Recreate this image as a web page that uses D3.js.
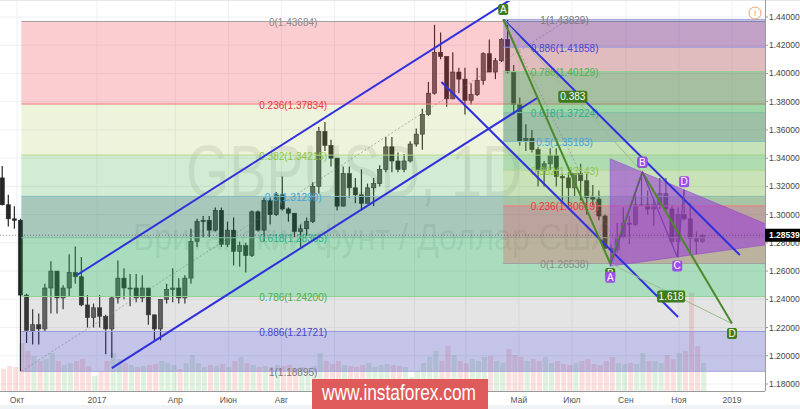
<!DOCTYPE html>
<html><head><meta charset="utf-8">
<script src="https://cdn.jsdelivr.net/npm/d3@7/dist/d3.min.js"></script>
<style>body{margin:0;background:#fff}svg{display:block}text{font-family:"Liberation Sans",Arial,sans-serif}</style>
</head><body><svg id="c" width="800" height="409"></svg>
<script>
// ---------------- DATA ----------------
const firstWeek = "2016-09-12", lastWeekEnd = "2018-11-27";
const open  = [1.3260,1.3070,1.2970,1.2960,1.2430,1.2180,1.2220,1.2190,1.2480,1.2600,1.2410,1.2480,1.2590,1.2560,1.2360,1.2270,
 1.2340,1.2280,1.2190,1.2410,1.2550,1.2480,1.2480,1.2410,1.2480,1.2290,1.2190,1.2400,1.2470,1.2480,1.2410,1.2550,1.2810,1.2950,1.2960,1.2890,1.3030,1.2790,1.2890,1.2740,1.2780,1.2710,1.3020,1.2890,1.3100,1.3000,1.3140,1.3040,1.3010,1.2880,1.2900,1.2950,1.3200,1.3590,1.3490,1.3400,1.3060,1.3290,1.3190,1.3140,1.3080,1.3190,1.3220,1.3320,1.3480,1.3380,1.3320,1.3380,
 1.3500,1.3570,1.3710,1.3860,1.4150,1.4120,1.3820,1.4010,1.3960,1.3810,1.3850,1.3950,1.4140,1.4010,1.4090,1.4240,1.4010,1.3780,1.3520,1.3540,1.3460,1.3310,1.3360,1.3420,1.3270,1.3260,1.3190,1.3290,1.3240,1.3120,1.3110,1.2990,1.2760,1.2750,1.2840,1.2940,1.2930,1.3070,1.3070,1.3040,1.3070,1.3150,1.3040,1.2810,1.3000,1.2970,1.2830,1.2810];
const high  = [1.3345,1.3140,1.3060,1.2970,1.2440,1.2330,1.2300,1.2510,1.2670,1.2600,1.2500,1.2720,1.2775,1.2700,1.2430,1.2370,
 1.2430,1.2290,1.2420,1.2675,1.2620,1.2580,1.2580,1.2570,1.2480,1.2290,1.2400,1.2510,1.2620,1.2550,1.2570,1.2900,1.2970,1.2990,1.2990,1.3050,1.3050,1.2950,1.2980,1.2810,1.2800,1.3030,1.3030,1.3120,1.3120,1.3160,1.3270,1.3050,1.3010,1.2930,1.2980,1.3230,1.3620,1.3657,1.3530,1.3400,1.3340,1.3340,1.3260,1.3320,1.3220,1.3260,1.3350,1.3550,1.3550,1.3440,1.3430,1.3520,
 1.3610,1.3750,1.3940,1.4345,1.4290,1.4120,1.4150,1.4040,1.4040,1.3930,1.4040,1.4150,1.4240,1.4110,1.4250,1.4383,1.4060,1.3830,1.3640,1.3600,1.3480,1.3380,1.3470,1.3470,1.3290,1.3300,1.3290,1.3360,1.3290,1.3210,1.3170,1.3000,1.2790,1.2940,1.3050,1.2990,1.3140,1.3298,1.3170,1.3100,1.3260,1.3260,1.3070,1.3050,1.3176,1.3080,1.2880,1.2860];
const low   = [1.3065,1.2915,1.2900,1.1890,1.2090,1.2080,1.2080,1.2170,1.2300,1.2300,1.2330,1.2420,1.2510,1.2350,1.2200,1.2200,
 1.2200,1.2010,1.1986,1.2370,1.2400,1.2350,1.2380,1.2380,1.2220,1.2110,1.2110,1.2370,1.2380,1.2370,1.2370,1.2510,1.2770,1.2840,1.2840,1.2880,1.2770,1.2770,1.2640,1.2630,1.2590,1.2700,1.2880,1.2810,1.2930,1.2990,1.3030,1.2950,1.2840,1.2770,1.2850,1.2940,1.3150,1.3450,1.3340,1.3030,1.3060,1.3120,1.3080,1.3030,1.3080,1.3060,1.3200,1.3300,1.3300,1.3300,1.3300,1.3370,
 1.3480,1.3460,1.3700,1.3850,1.4100,1.3765,1.3820,1.3860,1.3710,1.3780,1.3840,1.3920,1.4010,1.3960,1.4080,1.4000,1.3710,1.3490,1.3450,1.3440,1.3200,1.3200,1.3310,1.3200,1.3100,1.3050,1.3130,1.3100,1.3000,1.3060,1.2960,1.2760,1.2654,1.2730,1.2830,1.2790,1.2920,1.3060,1.3000,1.2920,1.3040,1.3030,1.2790,1.2696,1.2960,1.2720,1.2720,1.2800];
const close = [1.3070,1.2970,1.2960,1.2430,1.2180,1.2220,1.2190,1.2480,1.2600,1.2410,1.2480,1.2590,1.2560,1.2360,1.2270,1.2340,
 1.2280,1.2190,1.2410,1.2550,1.2480,1.2480,1.2410,1.2480,1.2290,1.2190,1.2400,1.2470,1.2480,1.2410,1.2550,1.2810,1.2950,1.2960,1.2890,1.3030,1.2790,1.2890,1.2740,1.2780,1.2710,1.3020,1.2890,1.3100,1.3000,1.3140,1.3040,1.3010,1.2880,1.2900,1.2950,1.3200,1.3590,1.3490,1.3400,1.3060,1.3290,1.3190,1.3140,1.3080,1.3190,1.3220,1.3320,1.3480,1.3380,1.3320,1.3380,1.3500,
 1.3570,1.3710,1.3860,1.4150,1.4120,1.3820,1.4010,1.3960,1.3810,1.3850,1.3950,1.4140,1.4010,1.4090,1.4240,1.4010,1.3780,1.3520,1.3540,1.3460,1.3310,1.3360,1.3420,1.3270,1.3260,1.3190,1.3290,1.3240,1.3120,1.3110,1.2990,1.2760,1.2750,1.2840,1.2940,1.2930,1.3070,1.3070,1.3040,1.3070,1.3150,1.3040,1.2810,1.3000,1.2970,1.2830,1.2810,1.2854];
const volume = [22,25,24,48,40,35,30,32,38,30,26,28,30,32,25,15,
 20,30,38,32,28,26,24,25,26,27,30,28,26,22,28,36,28,24,26,25,27,24,30,34,28,26,24,25,24,26,25,26,22,24,20,25,38,30,27,30,26,25,24,26,28,24,26,27,26,25,24,14,
 20,28,34,40,30,45,36,30,28,32,30,34,35,30,28,42,36,34,30,32,30,34,28,30,27,26,28,30,32,27,26,30,34,28,27,28,27,38,30,30,28,36,32,38,40,98,45,28];

const yTicks = [1.18,1.20,1.22,1.24,1.26,1.28,1.30,1.32,1.34,1.36,1.38,1.40,1.42,1.44];
const xTickDates  = ["2016-10-01","2017-01-01","2017-04-01","2017-06-01","2017-08-01","2017-10-01","2018-01-01","2018-03-01","2018-05-01","2018-07-01","2018-09-01","2018-11-01","2019-01-01"];
const xTickLabels = ["Окт","2017","Апр","Июн","Авг","Окт","2018","Мар","Май","Июл","Сен","Ноя","2019"];

const fibLevels  = [0,0.236,0.382,0.5,0.618,0.786,0.886,1];
const fib1Prices = [1.43684,1.37834,1.34215,1.31290,1.28365,1.24200,1.21721,1.18895];
const fib1Dates  = ["2016-10-06","2018-06-23"];
const fib2Prices = [1.26538,1.30619,1.33143,1.35183,1.37224,1.40129,1.41858,1.43829];
const fib2Dates  = ["2018-04-13","2018-09-01"];

const ascUpperDates = ["2016-12-09","2018-04-22"], ascUpperPrices = [1.2572,1.4525];
const ascLowerDates = ["2017-01-18","2018-05-22"], ascLowerPrices = [1.1913,1.3826];
const descUpperDates = ["2018-04-13","2019-01-10"], descUpperPrices = [1.43829,1.2714];
const descLowerDates = ["2018-02-01","2018-10-31"], descLowerPrices = [1.3940,1.2275];

const abcdNames  = ["A","B","C","D"];
const abcdDates  = ["2018-04-13","2018-08-14","2018-09-20","2019-01-01"];
const abcdPrices = [1.43829,1.26538,1.3300,1.2228];
const abcdRatios = ["0.383","1.618"];

const triNames  = ["A","B","C","D"];
const triDates  = ["2018-08-14","2018-09-20","2018-10-30","2018-11-07"];
const triPrices = [1.2635,1.3300,1.2700,1.3176];

const lastPrice = 1.28539;

// ---------------- STYLE ----------------
const zoneFill  = [null,"rgba(242,54,69,0.25)","rgba(160,190,60,0.18)","rgba(76,175,80,0.25)","rgba(30,110,80,0.38)","rgba(40,170,90,0.40)","rgba(120,120,120,0.20)","rgba(60,60,180,0.30)"];
const lineColor = ["#a0a0a0","#f47c7c","#b5d98a","#86bcc4","#7cc0a4","#8fd08f","#9a9ae0","#a8a8d8"];
const labelColor= ["#8a8a8a","#f0323c","#8cc63f","#3fa3d9","#2aae8e","#4cb050","#4646cc","#7a7a7a"];
const GREEN="#3c7c1c", PURPLE="#9b4fe8", BLUE="#3030dc";

// ---------------- SCALES ----------------
const parse = d3.utcParse("%Y-%m-%d");
const PR = 765, PB = 391;
const x = d3.scaleUtc().domain([parse("2016-10-01"), parse("2019-01-01")]).range([17,732]);
const y = d3.scaleLinear().domain([1.18,1.44]).range([384,17]);
const vY = d3.scaleLinear().domain([0,100]).range([PB,PB-100]);

const svg = d3.select("#c");
svg.append("rect").attr("width",800).attr("height",409).attr("fill","#fff");
svg.append("defs").append("clipPath").attr("id","plot").append("rect").attr("x",0).attr("y",0).attr("width",PR).attr("height",PB);
const g = svg.append("g").attr("clip-path","url(#plot)");

// grid
g.selectAll(".hg").data(yTicks).join("line").attr("x1",0).attr("x2",PR).attr("y1",d=>y(d)).attr("y2",d=>y(d)).attr("stroke","#eef0f2");
g.selectAll(".vg").data(xTickDates).join("line").attr("y1",0).attr("y2",PB).attr("x1",d=>x(parse(d))).attr("x2",d=>x(parse(d))).attr("stroke","#eef0f2");

// watermark
g.append("text").attr("x",186).attr("y",197).attr("font-size",74).attr("textLength",336).attr("lengthAdjust","spacingAndGlyphs")
 .attr("fill","rgba(60,60,60,0.11)").text("GBPUSD, 1D");
g.append("text").attr("x",133).attr("y",250).attr("font-size",36).attr("textLength",480).attr("lengthAdjust","spacingAndGlyphs")
 .attr("fill","rgba(60,60,60,0.11)").text("Британский фунт / Доллар США");

// bars
const weeks = d3.utcMonday.range(parse(firstWeek), parse(lastWeekEnd));
const bars = weeks.map((w,i)=>({w,o:open[i],h:high[i],l:low[i],c:close[i],v:volume[i]}));

g.selectAll(".vol").data(bars).join("rect")
 .attr("x",d=>x(d.w)+0.5).attr("width",d=>x(d3.utcDay.offset(d.w,7))-x(d.w)-1)
 .attr("y",d=>vY(d.v)).attr("height",d=>PB-vY(d.v))
 .attr("fill",d=>d.c>=d.o?"rgba(76,175,80,0.18)":"rgba(239,83,80,0.18)");

const cx = d=>x(d3.utcDay.offset(d.w,2));
g.selectAll(".wick").data(bars).join("line")
 .attr("x1",cx).attr("x2",cx).attr("y1",d=>y(d.h)).attr("y2",d=>y(d.l)).attr("stroke","#262626").attr("stroke-width",1.2);
g.selectAll(".body").data(bars).join("rect")
 .attr("x",d=>cx(d)-2.1).attr("width",4.2)
 .attr("y",d=>y(Math.max(d.o,d.c))).attr("height",d=>Math.max(1,Math.abs(y(d.o)-y(d.c))))
 .attr("fill",d=>d.c>=d.o?"#5c5c5c":"#262626").attr("stroke","#262626").attr("stroke-width",0.6);

// fib
function drawFib(prices, dates){
  const x0 = x(parse(dates[0])), xm = (x0 + x(parse(dates[1])))/2;
  const fg = g.append("g");
  for(let i=1;i<prices.length;i++){
    const ya=y(prices[i-1]), yb=y(prices[i]);
    fg.append("rect").attr("x",x0).attr("width",PR-x0).attr("y",Math.min(ya,yb)).attr("height",Math.abs(ya-yb)).attr("fill",zoneFill[i]);
  }
  prices.forEach((p,i)=>{
    fg.append("line").attr("x1",x0).attr("x2",PR).attr("y1",y(p)).attr("y2",y(p)).attr("stroke",lineColor[i]).attr("stroke-width",1);
  });
  prices.forEach((p,i)=>{
    fg.append("text").attr("x",xm).attr("y",y(p)+1).attr("dy","0.36em").attr("text-anchor","middle").attr("font-size",10)
      .attr("fill",labelColor[i]).text(`${fibLevels[i]}(${p.toFixed(5)})`);
  });
  // dotted trend line from level 1 anchor to level 0 anchor
  fg.append("line").attr("x1",x0).attr("y1",y(prices[prices.length-1])).attr("x2",x(parse(dates[1]))).attr("y2",y(prices[0]))
    .attr("stroke","rgba(120,120,120,0.55)").attr("stroke-dasharray","2,2");
}
drawFib(fib1Prices, fib1Dates);
drawFib(fib2Prices, fib2Dates);

// purple triangle pattern
const tp = triDates.map((d,i)=>[x(parse(d)), y(triPrices[i])]);
const [tA,tB,tC,tD] = tp;
const sBD=(tD[1]-tB[1])/(tD[0]-tB[0]), sAC=(tC[1]-tA[1])/(tC[0]-tA[0]);
const topLeftY = tB[1]+sBD*(tA[0]-tB[0]);
const apexX = (tA[1]-tB[1]+sBD*tB[0]-sAC*tA[0])/(sBD-sAC);
const apexY = tA[1]+sAC*(apexX-tA[0]);
g.append("polygon").attr("points",[[tA[0],topLeftY],tA,[apexX,apexY]].map(p=>p.join(",")).join(" "))
 .attr("fill","rgba(155,60,215,0.58)").attr("stroke","rgba(140,60,210,0.6)").attr("stroke-width",0.8);

// channels
const line = d3.line().x(d=>x(parse(d[0]))).y(d=>y(d[1]));
[[ascUpperDates,ascUpperPrices],[ascLowerDates,ascLowerPrices],[descUpperDates,descUpperPrices],[descLowerDates,descLowerPrices]].forEach(([ds,ps])=>{
  g.append("path").attr("d",line(ds.map((d,i)=>[d,ps[i]]))).attr("fill","none").attr("stroke",BLUE).attr("stroke-width",2);
});

// ABCD (green)
const ap = abcdDates.map((d,i)=>[x(parse(d)), y(abcdPrices[i])]);
g.append("line").attr("x1",ap[0][0]).attr("y1",ap[0][1]).attr("x2",ap[2][0]).attr("y2",ap[2][1]).attr("stroke","#9dbb8a").attr("stroke-width",1);
g.append("line").attr("x1",ap[1][0]).attr("y1",ap[1][1]).attr("x2",ap[3][0]).attr("y2",ap[3][1]).attr("stroke","#9dbb8a").attr("stroke-width",1);
g.append("path").attr("d",d3.line()(ap)).attr("fill","none").attr("stroke","#4a8a2a").attr("stroke-width",2).attr("stroke-linejoin","round");

// purple pattern polyline
g.append("path").attr("d",d3.line()(tp)).attr("fill","none").attr("stroke","#7d3fb0").attr("stroke-width",1.2);

// label boxes
function tag(cxp, cyp, txt, fill, w, h){
  const lg = g.append("g");
  lg.append("rect").attr("x",cxp-w/2).attr("y",cyp-h/2).attr("width",w).attr("height",h).attr("rx",2).attr("fill",fill);
  lg.append("text").attr("x",cxp).attr("y",cyp).attr("dy","0.34em").attr("text-anchor","middle").attr("font-family","Liberation Serif, serif")
    .attr("font-size",10).attr("fill","#fff").text(txt);
}
const gOff=[-10,10,-10,10];
ap.forEach((p,i)=>tag(p[0], p[1]+gOff[i], abcdNames[i], GREEN, 10, 11));
tag((ap[0][0]+ap[2][0])/2, (ap[0][1]+ap[2][1])/2+1, abcdRatios[0], GREEN, 29, 12);
tag((ap[1][0]+ap[3][0])/2, (ap[1][1]+ap[3][1])/2+3, abcdRatios[1], GREEN, 28, 12);
const pOff=[11,-10,9,-8];
tp.forEach((p,i)=>tag(p[0], p[1]+pOff[i], triNames[i], PURPLE, 10, 11));

// last price line
g.append("line").attr("x1",0).attr("x2",PR).attr("y1",y(lastPrice)).attr("y2",y(lastPrice))
 .attr("stroke","rgba(60,60,60,0.55)").attr("stroke-dasharray","1,2");

// axes
svg.append("rect").attr("x",PR).attr("y",0).attr("width",800-PR).attr("height",409).attr("fill","#fff");
svg.append("rect").attr("x",0).attr("y",PB).attr("width",800).attr("height",409-PB).attr("fill","#fff");
svg.append("line").attr("x1",0).attr("x2",800).attr("y1",0.5).attr("y2",0.5).attr("stroke","#e3e6ea");
svg.append("line").attr("x1",PR+0.5).attr("x2",PR+0.5).attr("y1",0).attr("y2",PB).attr("stroke","#9a9a9a");
svg.append("line").attr("x1",0).attr("x2",PR).attr("y1",PB+0.5).attr("y2",PB+0.5).attr("stroke","#9a9a9a");
svg.append("rect").attr("x",0).attr("y",405).attr("width",800).attr("height",4).attr("fill","#f0f2f5");
svg.selectAll(".yt").data(yTicks).join("text").attr("x",769).attr("y",d=>y(d)).attr("dy","0.35em").attr("font-size",8.5)
 .attr("fill","#444").text(d=>d.toFixed(5));
svg.selectAll(".ytk").data(yTicks).join("line").attr("x1",PR).attr("x2",PR+3).attr("y1",d=>y(d)).attr("y2",d=>y(d)).attr("stroke","#9a9a9a");
svg.selectAll(".xt").data(xTickDates).join("text").attr("x",d=>x(parse(d))).attr("y",403).attr("text-anchor","middle").attr("font-size",8.5)
 .attr("fill","#555").text((d,i)=>xTickLabels[i]);

// last price tag
svg.append("rect").attr("x",PR).attr("y",y(lastPrice)-6.5).attr("width",35).attr("height",13).attr("fill","#000");
svg.append("text").attr("x",769).attr("y",y(lastPrice)).attr("dy","0.35em").attr("font-size",8.5).attr("font-weight","bold").attr("fill","#fff").text(lastPrice.toFixed(5));

// warning icon
svg.append("circle").attr("cx",755).attr("cy",13).attr("r",6).attr("fill","#fff").attr("stroke","#f4a06a").attr("stroke-width",1);
svg.append("text").attr("x",755).attr("y",13).attr("dy","0.35em").attr("text-anchor","middle").attr("font-size",8).attr("fill","#f08040").text("!");

// instaforex watermark
svg.append("rect").attr("x",312).attr("y",379).attr("width",176).attr("height",30).attr("fill","#df5a5a");
svg.append("text").attr("x",322).attr("y",400).attr("font-size",22).attr("textLength",154).attr("lengthAdjust","spacingAndGlyphs").attr("fill","#fff").text("www.instaforex.com");
</script></body></html>
